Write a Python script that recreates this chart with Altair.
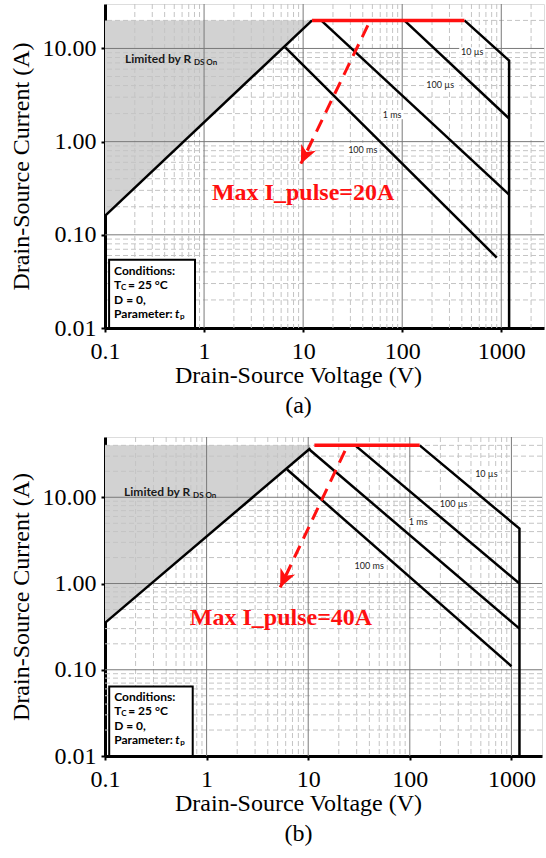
import altair as alt
import pandas as pd

# ---------------- shared texts / ticks ----------------
X_TITLE = "Drain-Source Voltage (V)"
Y_TITLE = "Drain-Source Current (A)"
X_MAJOR = [0.1, 1, 10, 100, 1000]
Y_MAJOR = [0.01, 0.1, 1, 10]
MINOR_STEPS = [2, 3, 4, 5, 6, 7, 8, 9]
CURVE_LABELS = ["10 µs", "100 µs", "1 ms", "100 ms"]

# ---------------- panel (a) values ----------------
A_XMAX, A_YMAX = 2700, 30
A_SHADE_TOP = 20
A_RDS_V, A_RDS_I = [0.1, 12.3], [0.16, 20]
A_100MS_V, A_100MS_I = [6.6, 900], [10.3, 0.057]
A_1MS_V, A_1MS_I = [15.2, 1200], [20, 0.27]
A_100US_V, A_100US_I = [105, 1200], [20, 1.77]
A_10US_V, A_10US_I = [425, 1200, 1200], [20, 7.4, 0.01]
A_RED_V, A_RED_I = [12.3, 425], [20, 20]
A_ARROW_V, A_ARROW_I = [45, 9.5], [17.7, 0.58]
A_LABEL_V, A_LABEL_I = [509, 242, 79, 40], [9.06, 4.1, 1.95, 0.82]
A_NOTE_V, A_NOTE_I = 0.159, 7.8
A_PULSE = "Max I_pulse=20A"
A_PULSE_V, A_PULSE_I = 10, 0.283
A_BOX_V, A_BOX_I = [0.11, 0.81], [0.01, 0.054]

# ---------------- panel (b) values ----------------
B_XMAX, B_YMAX = 2000, 50
B_SHADE_TOP = 40
B_RDS_V, B_RDS_I = [0.1, 10.5], [0.35, 37]
B_100MS_V, B_100MS_I = [6.2, 1000], [21, 0.11]
B_1MS_V, B_1MS_I = [10.2, 1200], [36, 0.30]
B_100US_V, B_100US_I = [29, 1200], [40, 1.0]
B_10US_V, B_10US_I = [125, 1200, 1200], [40, 4.33, 0.01]
B_RED_V, B_RED_I = [11.5, 125], [40, 40]
B_ARROW_V, B_ARROW_I = [23, 5.3], [34.5, 0.9]
B_LABEL_V, B_LABEL_I = [567, 270, 121, 39.8], [18.5, 8.3, 5.1, 1.58]
B_NOTE_V, B_NOTE_I = 0.154, 11.5
B_PULSE = "Max I_pulse=40A"
B_PULSE_V, B_PULSE_I = 5.4, 0.40
B_BOX_V, B_BOX_I = [0.11, 0.73], [0.01, 0.064]

SERIF = "Liberation Serif"
SANS = "Lato"


def make_panel(xmax, ymax, shade_top, rds, ms100, ms1, us100, us10, red, arrow,
               lab_v, lab_i, note, pulse, pulse_pos, box_v, box_i, caption,
               width, height):
    xs = alt.Scale(type="log", domain=[0.1, xmax], nice=False)
    ys = alt.Scale(type="log", domain=[0.01, ymax], nice=False)
    xaxis = alt.Axis(values=X_MAJOR, format="~g", grid=False, title=[X_TITLE, caption],
                     titleFont=SERIF, titleFontSize=24, titleFontWeight="normal",
                     titleColor="black", titleLineHeight=30, titlePadding=0,
                     titleX=193, labelFont=SERIF, labelFontSize=24, labelColor="black",
                     labelPadding=7, tickSize=4, tickWidth=2, tickColor="black",
                     domainColor="black", domainWidth=3, labelFlush=False)
    yaxis = alt.Axis(values=Y_MAJOR, format=".2f", grid=False, title=Y_TITLE,
                     titleFont=SERIF, titleFontSize=24, titleFontWeight="normal",
                     titleColor="black", titlePadding=9, labelFont=SERIF,
                     labelFontSize=24, labelColor="black", labelPadding=5,
                     tickSize=4, tickWidth=2, tickColor="black",
                     domainColor="black", domainWidth=3, labelFlush=False)
    X = alt.X("V:Q", scale=xs, axis=xaxis)
    Y = alt.Y("I:Q", scale=ys, axis=yaxis)

    def text_at(v, i, t, dx=0, dy=0, size=12, weight="bold", style="normal",
                color="black", font=SANS, align="left"):
        df = pd.DataFrame({"V": [v], "I": [i], "t": [t]})
        return alt.Chart(df).mark_text(
            font=font, fontSize=size, fontWeight=weight, fontStyle=style,
            color=color, align=align, baseline="middle", dx=dx, dy=dy
        ).encode(x=X, y=Y, text="t:N")

    # shaded region (Rds-limited)
    area_df = pd.DataFrame({"V": rds[0], "I": rds[1], "I2": [shade_top] * len(rds[0])})
    area = alt.Chart(area_df).mark_area(color="#d2d2d2", opacity=1).encode(
        x=X, y=Y, y2="I2:Q")

    # grid lines
    xminor = [d * k for d in X_MAJOR for k in MINOR_STEPS if d * k < xmax]
    yminor = [d * k for d in Y_MAJOR for k in MINOR_STEPS if d * k < ymax]
    gx_minor = alt.Chart(pd.DataFrame({"V": xminor})).mark_rule(
        color="#c4c4c4", strokeDash=[5, 3], strokeWidth=1).encode(x=X)
    gy_minor = alt.Chart(pd.DataFrame({"I": yminor})).mark_rule(
        color="#c4c4c4", strokeDash=[5, 3], strokeWidth=1).encode(y=Y)
    gx_major = alt.Chart(pd.DataFrame({"V": X_MAJOR[1:]})).mark_rule(
        color="#7a7a7a", strokeWidth=1).encode(x=X)
    gy_major = alt.Chart(pd.DataFrame({"I": Y_MAJOR[1:]})).mark_rule(
        color="#7a7a7a", strokeWidth=1).encode(y=Y)

    # conditions box
    box_df = pd.DataFrame({"V": [box_v[0]], "V2": [box_v[1]], "I": [box_i[0]], "I2": [box_i[1]]})
    box = alt.Chart(box_df).mark_rect(fill="white", stroke="black", strokeWidth=2).encode(
        x=X, x2="V2:Q", y=Y, y2="I2:Q")
    bl, bt = box_v[0], box_i[1]
    box_texts = [
        text_at(bl, bt, "Conditions:", 5, 11),
        text_at(bl, bt, "T", 5, 25),
        text_at(bl, bt, "C", 12, 28, size=8),
        text_at(bl, bt, "= 25 °C", 19, 25),
        text_at(bl, bt, "D = 0,", 5, 40),
        text_at(bl, bt, "Parameter:", 5, 54),
        text_at(bl, bt, "t", 66, 54, style="italic"),
        text_at(bl, bt, "p", 71, 57, size=8),
    ]

    # SOA curves
    rows = []
    for name, (vv, ii) in [("rds", rds), ("ms100", ms100), ("ms1", ms1),
                           ("us100", us100), ("us10", us10)]:
        for k, (v, i) in enumerate(zip(vv, ii)):
            rows.append({"seg": name, "o": k, "V": v, "I": i})
    curves = alt.Chart(pd.DataFrame(rows)).mark_line(color="black", strokeWidth=2.5).encode(
        x=X, y=Y, detail="seg:N", order="o:Q")

    red_df = pd.DataFrame({"V": red[0], "I": red[1]})
    red_line = alt.Chart(red_df).mark_line(color="#ff1010", strokeWidth=3.5).encode(x=X, y=Y)

    arr_df = pd.DataFrame({"V": arrow[0], "I": arrow[1], "o": [0, 1]})
    arr_line = alt.Chart(arr_df).mark_line(color="#ff1010", strokeWidth=3,
                                           strokeDash=[13, 8]).encode(x=X, y=Y, order="o:Q")
    head_df = pd.DataFrame({"V": [arrow[0][1]], "I": [arrow[1][1]]})
    head = alt.Chart(head_df).mark_point(
        shape="M0,0L0.45,1L0,0.72L-0.45,1Z", size=1300, filled=True, opacity=1,
        color="#ff1010", angle=205).encode(x=X, y=Y)

    # curve labels with white backgrounds
    lab_df = pd.DataFrame({"V": lab_v, "I": lab_i, "t": CURVE_LABELS,
                           "s": [26 ** 2, 31 ** 2, 23 ** 2, 33 ** 2]})
    lab_bg = alt.Chart(lab_df).mark_point(
        shape="M-1,-0.4L1,-0.4L1,0.4L-1,0.4Z", filled=True, color="white", opacity=1).encode(
        x=X, y=Y, size=alt.Size("s:Q", scale=None))
    lab_txt = alt.Chart(lab_df).mark_text(font=SANS, fontSize=9, color="#222222",
                                          baseline="middle").encode(x=X, y=Y, text="t:N")

    # "Limited by R_DS On"
    note_texts = [
        text_at(note[0], note[1], "Limited by R", 0, 0, size=12, color="#1a1a1a"),
        text_at(note[0], note[1], "DS On", 69, 4, size=8, color="#1a1a1a"),
    ]

    pulse_txt = text_at(pulse_pos[0], pulse_pos[1], pulse, size=24, color="#ff1010",
                        font=SERIF, align="center")

    return alt.layer(area, gx_minor, gy_minor, gx_major, gy_major, box, *box_texts,
                     lab_bg, curves, red_line, arr_line, head, lab_txt, *note_texts,
                     pulse_txt).properties(width=width, height=height)


panel_a = make_panel(A_XMAX, A_YMAX, A_SHADE_TOP, (A_RDS_V, A_RDS_I), (A_100MS_V, A_100MS_I),
                     (A_1MS_V, A_1MS_I), (A_100US_V, A_100US_I), (A_10US_V, A_10US_I),
                     (A_RED_V, A_RED_I), (A_ARROW_V, A_ARROW_I), A_LABEL_V, A_LABEL_I,
                     (A_NOTE_V, A_NOTE_I), A_PULSE, (A_PULSE_V, A_PULSE_I),
                     A_BOX_V, A_BOX_I, "(a)", 439, 324)
panel_b = make_panel(B_XMAX, B_YMAX, B_SHADE_TOP, (B_RDS_V, B_RDS_I), (B_100MS_V, B_100MS_I),
                     (B_1MS_V, B_1MS_I), (B_100US_V, B_100US_I), (B_10US_V, B_10US_I),
                     (B_RED_V, B_RED_I), (B_ARROW_V, B_ARROW_I), B_LABEL_V, B_LABEL_I,
                     (B_NOTE_V, B_NOTE_I), B_PULSE, (B_PULSE_V, B_PULSE_I),
                     B_BOX_V, B_BOX_I, "(b)", 437, 319)

chart = alt.vconcat(panel_a, panel_b, spacing=18).properties(
    padding={"left": 8, "top": 3, "right": 0, "bottom": 0}
).configure_view(stroke=None).configure(background="white")

chart.save("out.html", embed_options={"renderer": "svg", "actions": False})
